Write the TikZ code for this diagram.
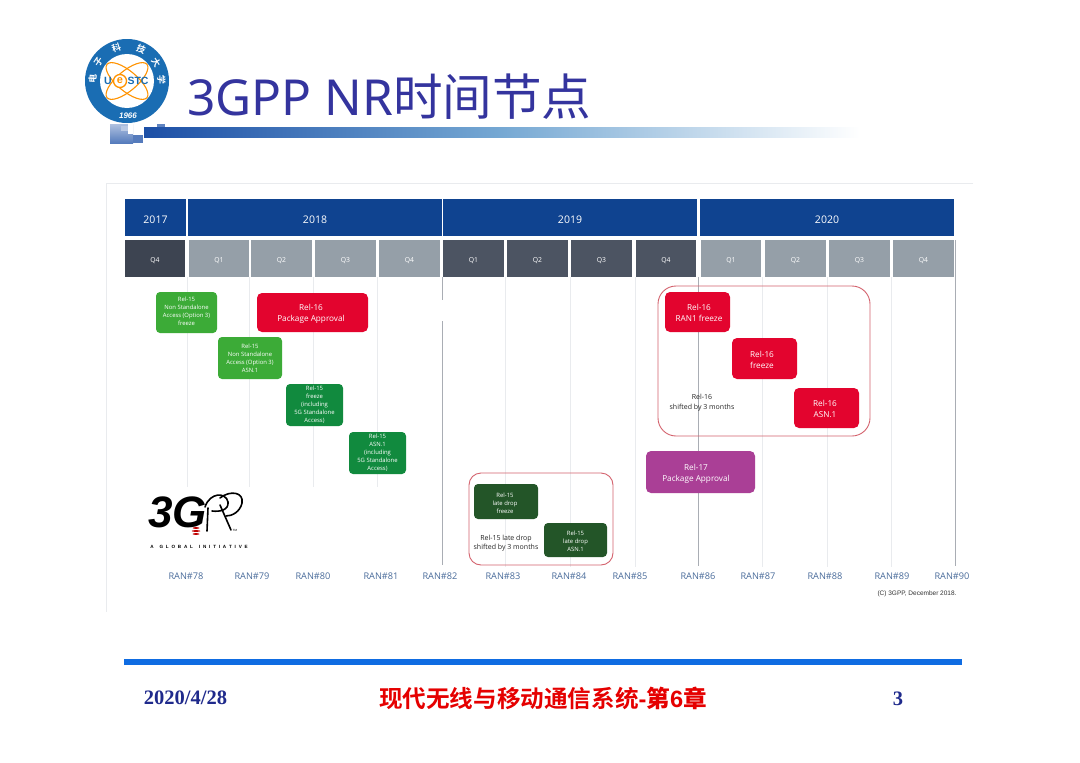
\documentclass[tikz,border=0pt]{standalone}
\usepackage{fontspec}
\setmainfont{Open Sans}
\newfontfamily\titlefont{Noto Sans}
\newfontfamily\cjk{Noto Sans CJK SC}
\newfontfamily\cjkb{Noto Sans CJK SC Bold}
\newfontfamily\timesb{Liberation Serif}
\newfontfamily\arialf{Liberation Sans}
\usetikzlibrary{calc}
\definecolor{yearblue}{HTML}{0F4390}
\definecolor{qdark}{HTML}{3D4451}
\definecolor{qdarkb}{HTML}{4C5462}
\definecolor{qgray}{HTML}{959FA8}
\definecolor{greenA}{HTML}{3CAB37}
\definecolor{greenB}{HTML}{118A3E}
\definecolor{greenC}{HTML}{235528}
\definecolor{redA}{HTML}{E3042E}
\definecolor{purpleA}{HTML}{AA3F96}
\definecolor{frameR}{HTML}{D4636E}
\definecolor{ranblue}{HTML}{4A6C9B}
\definecolor{titleblue}{HTML}{34349E}
\definecolor{ringblue}{HTML}{1A6DB3}
\definecolor{barblue}{HTML}{1C4FA6}
\definecolor{botblue}{HTML}{0F6CE2}
\definecolor{navy}{HTML}{1F2A8C}
\definecolor{faint}{HTML}{E9EBEE}
\definecolor{midg}{HTML}{A9ADB4}
\def\tdy{0pt}\def\tdx{0pt}
\tikzset{
  tdy/.code={\def\tdy{#1}},
  tdx/.code={\def\tdx{#1}},
  cell/.style={inner sep=0pt,outer sep=0pt,align=center,text=white},
  yearbox/.style={cell,fill=yearblue,tdy=-2.5pt,font=\fontsize{10.5}{12}\selectfont},
  qbox/.style={cell,tdy=-1.8pt,font=\fontsize{6.8}{8}\selectfont},
  tiny15/.style={cell,rounded corners=4pt,font=\fontsize{5.9}{8}\selectfont},
  big16/.style={cell,rounded corners=5pt,fill=redA,tdy=-1.2pt,font=\fontsize{8.2}{11}\selectfont},
  grouprect/.style={draw=frameR,line width=0.9pt},
  ranlabel/.style={inner sep=0pt,text=ranblue,font=\fontsize{9.2}{10}\selectfont},
  note/.style={inner sep=0pt,align=center,text=black!85,font=\fontsize{7}{9.5}\selectfont},
  gridf/.style={draw=faint,line width=0.8pt},
  gridm/.style={draw=midg,line width=0.9pt},
}
\newcommand{\bx}[7]{%
  \node[#6,minimum width={(#4-#2)*1pt},minimum height={(#5-#3)*1pt}] (#1) at ({(#2+#4)/2},{(#3+#5)/2}) {};
  \node[#6,fill=none,xshift=\tdx,yshift=\tdy] (#1t) at (#1.center) {#7};}
\begin{document}
\begin{tikzpicture}[x=1pt,y=-1pt]
\useasboundingbox (0,0) rectangle (1080,763);
\fill[white] (0,0) rectangle (1080,763);
% title decoration
\fill[left color=barblue,right color=barblue!55!white!90!cyan] (144,127) rectangle (500,137);
\fill[left color=barblue!55!white!90!cyan,right color=white] (500,127) rectangle (860,137);
\fill[barblue!70!white] (157,124) rectangle (165,127);
\fill[top color=barblue!35!white,bottom color=barblue!75!white] (110,124) rectangle (133,143);
\fill[white!70!barblue] (121,126) rectangle (128,131);
\fill[white] (128,124) rectangle (133,134);
\fill[barblue!75!white] (133,135) rectangle (143,143);
% logo
\fill[ringblue] (127,81) circle (42);
\fill[white] (127,81) circle (27);
\foreach \ang in {-40,40}{\draw[orange!85!yellow,line width=1.1pt,rotate around={\ang:(127,81)}] (127,81) ellipse (26 and 10);}
\node[inner sep=0pt,text=ringblue,font=\arialf\bfseries\fontsize{10.5}{10}\selectfont] (logoU) at (108,81) {U};
\fill[white] (120,81) circle (6.5);
\draw[orange!85!yellow,line width=1.3pt] (120,81) circle (6.5);
\node[inner sep=0pt,text=orange!85!yellow,font=\arialf\bfseries\fontsize{11}{10}\selectfont] (logoE) at (120,80.5) {e};
\node[inner sep=0pt,text=ringblue,font=\arialf\bfseries\fontsize{10.5}{10}\selectfont] (logoS) at (138,81) {STC};
\foreach \a/\c in {176/电,146/子,108/科,66/技,32/大,2/学}{
  \node[inner sep=0pt,text=white,rotate=\a-90,font=\cjkb\fontsize{9}{9}\selectfont] at ($(127,81)+(\a:34.5 and -34.5)$) {\c};}
\node[inner sep=0pt,text=white,font=\arialf\bfseries\itshape\fontsize{8}{8}\selectfont] (logoY) at (128,116) {1966};
% title
\node[anchor=west,inner sep=0pt,text=titleblue,font=\fontsize{49.6}{54}\selectfont] (title) at (187,96.5) {\titlefont 3GPP NR\cjk 时间节点};
% chart frame
\draw[faint,line width=0.6pt] (973,183) -- (106,183) -- (106,612);
% grid
\foreach \x in {187,249,313,377}{\draw[gridf] (\x,277) -- (\x,487);}
\foreach \x in {505,570,635,762,827,891}{\draw[gridf] (\x,277) -- (\x,567);}
\draw[gridm] (442,277) -- (442,300);
\draw[gridm] (442,321) -- (442,565);
\draw[gridm] (698,277) -- (698,566);
\draw[gridm] (955,240) -- (955,566);
% years
\bx{y17}{125}{199}{186}{236}{yearbox}{2017}
\bx{y18}{188}{199}{442}{236}{yearbox}{2018}
\bx{y19}{443}{199}{697}{236}{yearbox}{2019}
\bx{y20}{700}{199}{954}{236}{yearbox}{2020}
% quarters
\bx{q1}{125}{240}{185}{277}{qbox,fill=qdark}{Q4}
\bx{q2}{189}{240}{249}{277}{qbox,fill=qgray}{Q1}
\bx{q3}{251}{240}{312}{277}{qbox,fill=qgray}{Q2}
\bx{q4}{315}{240}{376}{277}{qbox,fill=qgray}{Q3}
\bx{q5}{379}{240}{440}{277}{qbox,fill=qgray}{Q4}
\bx{q6}{443}{240}{504}{277}{qbox,fill=qdarkb}{Q1}
\bx{q7}{507}{240}{568}{277}{qbox,fill=qdarkb}{Q2}
\bx{q8}{571}{240}{632}{277}{qbox,fill=qdarkb}{Q3}
\bx{q9}{636}{240}{696}{277}{qbox,fill=qdarkb}{Q4}
\bx{q10}{701}{240}{761}{277}{qbox,fill=qgray}{Q1}
\bx{q11}{765}{240}{826}{277}{qbox,fill=qgray}{Q2}
\bx{q12}{829}{240}{890}{277}{qbox,fill=qgray}{Q3}
\bx{q13}{893}{240}{954}{277}{qbox,fill=qgray}{Q4}
% group frames
\draw[grouprect,rounded corners=18pt] (658,286) rectangle (870,436);
\draw[grouprect,rounded corners=12pt] (469,473) rectangle (613,565);
% milestones
\bx{a1}{156}{292}{217}{333}{tiny15,fill=greenA,tdy=1pt}{Rel-15\\Non Standalone\\Access (Option 3)\\freeze}
\bx{a2}{257}{293}{368}{332}{big16,tdx=-1.5pt}{Rel-16\\Package Approval}
\bx{a3}{218}{337}{282}{379}{tiny15,fill=greenA,tdy=-0.5pt}{Rel-15\\Non Standalone\\Access (Option 3)\\ASN.1}
\bx{a4}{286}{384}{343}{426}{tiny15,fill=greenB}{Rel-15\\freeze\\(including\\5G Standalone\\Access)}
\bx{a5}{349}{432}{406}{474}{tiny15,fill=greenB}{Rel-15\\ASN.1\\(including\\5G Standalone\\Access)}
\bx{b1}{665}{292}{730}{332}{big16,tdx=1.5pt}{Rel-16\\RAN1 freeze}
\bx{b2}{732}{338}{797}{379}{big16,tdx=-2.5pt}{Rel-16\\freeze}
\bx{b3}{794}{388}{859}{428}{big16,tdx=-1.5pt}{Rel-16\\ASN.1}
\node[note] (n16) at (702,402.5) {Rel-16\\shifted by 3 months};
\bx{c1}{646}{451}{755}{493}{big16,fill=purpleA,tdx=-4.5pt,tdy=-1.5pt}{Rel-17\\Package Approval}
\bx{d1}{474}{484}{538}{519}{tiny15,fill=greenC,tdx=-1pt,tdy=-1.5pt}{Rel-15\\late drop\\freeze}
\bx{d2}{544}{523}{607}{557}{tiny15,fill=greenC,tdy=-1.5pt}{Rel-15\\late drop\\ASN.1}
\node[note] (n15) at (506,543) {Rel-15 late drop\\shifted by 3 months};
% 3GPP logo
\node[anchor=west,inner sep=0pt,text=black,font=\arialf\bfseries\itshape\fontsize{44}{46}\selectfont] (tg) at (148,512) {3G};
\draw[black,line width=1.6pt,line cap=round] (208,508) -- (207,531);
\draw[black,line width=1.6pt,line cap=round] (205,507) .. controls (210,492) and (226,492) .. (228,502) .. controls (229,510) and (220,512) .. (212,511);
\draw[black,line width=1.6pt,line cap=round] (220,505) -- (231,530);
\draw[black,line width=1.6pt,line cap=round] (220,498) .. controls (230,490) and (244,492) .. (242,503) .. controls (240,512) and (232,516) .. (226,516);
\foreach \yy/\w in {528/3.5,531/4.5,534/3.5}{\fill[red!75!black] (196,\yy) ellipse (\w pt and 0.9pt);}
\node[inner sep=0pt,font=\arialf\fontsize{3}{3}\selectfont] (tm) at (235,530) {TM};
\node[inner sep=0pt,font=\arialf\bfseries\fontsize{4.6}{5}\selectfont] (glob) at (199,546.5) {A\hspace{6pt}G\hspace{2.8pt}L\hspace{2.8pt}O\hspace{2.8pt}B\hspace{2.8pt}A\hspace{2.8pt}L\hspace{6pt}I\hspace{2.8pt}N\hspace{2.8pt}I\hspace{2.8pt}T\hspace{2.8pt}I\hspace{2.8pt}A\hspace{2.8pt}T\hspace{2.8pt}I\hspace{2.8pt}V\hspace{2.8pt}E};
% RAN labels
\foreach \n/\x in {78/186,79/252,80/313,81/381,82/440,83/503,84/569,85/630,86/698,87/758,88/825,89/892,90/952}{
  \node[ranlabel] (ran\n) at (\x,576) {RAN\#\n};}
\node[inner sep=0pt,text=black!80,font=\arialf\fontsize{6.5}{7}\selectfont] (copy) at (917,594) {(C) 3GPP, December 2018.};
% footer
\fill[botblue] (124,659) rectangle (962,665);
\node[inner sep=0pt,text=navy,font=\timesb\bfseries\fontsize{20.5}{22}\selectfont] (date) at (185.5,698) {2020/4/28};
\node[inner sep=0pt,text=red!90!black,font=\fontsize{23.6}{25}\selectfont] (foot) at (543,698) {\cjkb 现代无线与移动通信系统\arialf\bfseries -\cjkb 第\arialf\bfseries 6\cjkb 章};
\node[inner sep=0pt,text=navy,font=\timesb\bfseries\fontsize{20.5}{22}\selectfont] (pg) at (898,699) {3};
\end{tikzpicture}
\end{document}
